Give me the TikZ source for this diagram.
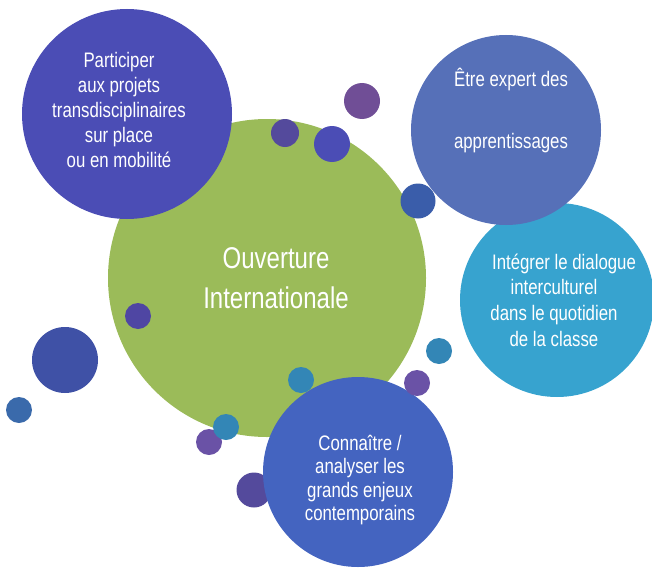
\documentclass[tikz,border=0pt]{standalone}
\usepackage{fontspec}
\setmainfont[FakeStretch=0.8]{Liberation Sans}
\usepackage{tikz}

\definecolor{ouvgreen}{HTML}{9BBB59}
\definecolor{partblue}{HTML}{4B4DB5}
\definecolor{expblue}{HTML}{5670B8}
\definecolor{intteal}{HTML}{37A3CF}
\definecolor{conblue}{HTML}{4464C0}
\definecolor{dotplum}{HTML}{544A9C}
\definecolor{dotviolet}{HTML}{704E96}
\definecolor{dotindigo}{HTML}{4F46A3}
\definecolor{dotnavy}{HTML}{3F51A6}
\definecolor{dotsteel}{HTML}{3A6AAB}
\definecolor{dotcobalt}{HTML}{3A5DAA}
\definecolor{dotteal}{HTML}{3386B6}
\definecolor{dotlilac}{HTML}{6A52A6}

\tikzset{
  bubble/.style={circle, inner sep=0pt, draw=none},
  bubtext/.style={text=white, align=center, font=\fontsize{21}{25}\selectfont},
}

\begin{document}
\begin{tikzpicture}[x=1pt,y=-1pt]
        \useasboundingbox (0,0) rectangle (652,567);
        % centre
        \node[bubble, minimum size=318pt, fill=ouvgreen] (ouv) at (267,278) {};
        \node[bubble, minimum size=210pt, fill=partblue] (part) at (127,114) {};
        \foreach \n/\x/\y/\r/\c in {a/285/133/14/dotplum, b/332/144/18/partblue,
            c/362/101/18/dotviolet, d/138/316/13/dotindigo, e/65/360/33/dotnavy,
            f/19/410/13/dotsteel} {
            \node[bubble, minimum size=2*\r pt, fill=\c] (dot\n) at (\x,\y) {};
        }
        \node[bubble, minimum size=194pt, fill=intteal] (inter) at (557,300) {};
        \node[bubble, minimum size=190pt, fill=expblue] (expert) at (506,130) {};
        \foreach \n/\x/\y/\r/\c in {g/418/201/17.5/dotcobalt, h/254/490/17.5/dotplum,
            i/209/442/13/dotlilac, j/226/427/13/dotteal} {
            \node[bubble, minimum size=2*\r pt, fill=\c] (dot\n) at (\x,\y) {};
        }
        \node[bubble, minimum size=190pt, fill=conblue] (conn) at (358,472) {};
        \foreach \n/\x/\y/\r/\c in {k/301/380/13/dotteal, l/439/351/13/dotteal,
            m/417/383/13/dotlilac} {
            \node[bubble, minimum size=2*\r pt, fill=\c] (dot\n) at (\x,\y) {};
        }
        % texts
        \node[bubtext, font=\fontsize{30}{40}\selectfont] (ouvtext) at (276,278) {Ouverture\\Internationale};
        \node[bubtext] (parttext) at (119,110) {Participer\\aux projets\\transdisciplinaires\\sur place\\ou en mobilité};
        \node[bubtext, font=\fontsize{21}{62}\selectfont] (experttext) at (511,111) {Être expert des\\apprentissages};
        \node[bubtext, font=\fontsize{21}{25.7}\selectfont] (intertext) at (554,300) {\hspace*{20pt}Intégrer le dialogue\\interculturel\\dans le quotidien\\de la classe};
        \node[bubtext, font=\fontsize{21}{23.5}\selectfont] (conntext) at (360,480) {Connaître /\\analyser les\\grands enjeux\\contemporains};
\end{tikzpicture}
\end{document}
